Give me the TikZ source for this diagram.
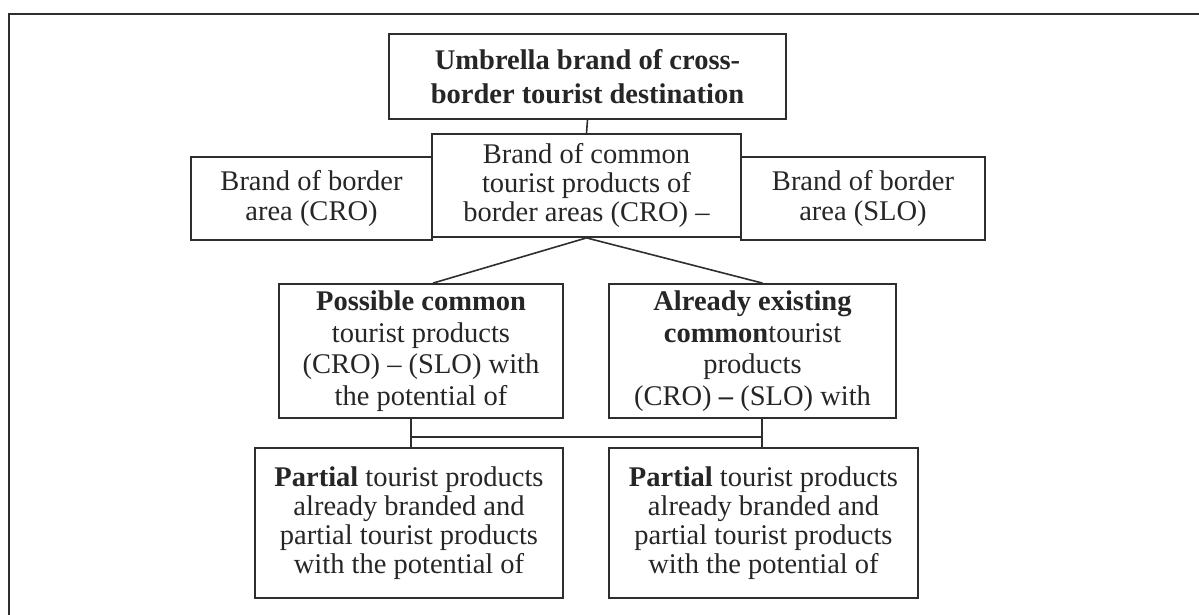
\documentclass[tikz,border=0pt]{standalone}
\usepackage{fontspec}
\setmainfont{Liberation Serif}
\usetikzlibrary{calc}
\definecolor{ink}{HTML}{2E2E2E}
\definecolor{txt}{HTML}{262626}
\begin{document}
\begin{tikzpicture}[x=1pt,y=-1pt,
  box/.style={draw=ink, line width=1.8pt, inner sep=0pt, align=center,
    text=txt, font=\fontsize{28.5}{29.2}\selectfont},
  link/.style={draw=ink, line width=1.6pt}]
\useasboundingbox (0,0) rectangle (1199,615);
% outer frame (open at right and bottom)
\draw[draw=ink, line width=1.8pt] (9,615) -- (9,14) -- (1199,14);

% top level
\node[box, minimum width=397pt, minimum height=85pt,
  font=\fontsize{28.5}{34}\selectfont\bfseries] (top) at (587.5,76.5)
  {Umbrella brand of cross-\\border tourist destination};

% second level
\node[box, minimum width=309pt, minimum height=103pt] (mid) at (586.5,185.5)
  {Brand of common\\tourist products of\\border areas (CRO) --};
\node[box, minimum width=241pt, minimum height=83pt] (cro) at (311.5,198.5)
  {Brand of border\\area (CRO)};
\node[box, minimum width=244pt, minimum height=83pt] (slo) at (863,198.5)
  {Brand of border\\area (SLO)};

% third level
\node[box, minimum width=284pt, minimum height=134pt,
  font=\fontsize{28.5}{31.5}\selectfont] (poss) at (421,351)
  {\textbf{Possible common}\\tourist products\\(CRO) -- (SLO) with\\the potential of};
\node[box, minimum width=287pt, minimum height=134pt,
  font=\fontsize{28.5}{31.5}\selectfont] (exist) at (752.5,351)
  {\textbf{Already existing}\\\textbf{common}tourist\\products\\(CRO) \textbf{--} (SLO) with};

% fourth level
\node[box, minimum width=308pt, minimum height=150pt] (pl) at (409,523)
  {\textbf{Partial} tourist products\\already branded and\\partial tourist products\\with the potential of};
\node[box, minimum width=309pt, minimum height=150pt] (pr) at (763.5,523)
  {\textbf{Partial} tourist products\\already branded and\\partial tourist products\\with the potential of};

% connectors
\draw[link] (top.south) -- (mid.north);
\draw[link] (mid.south) -- ($(poss.north)+(12,0)$);
\draw[link] (mid.south) -- ($(exist.north)+(10,0)$);

\coordinate (jl) at (411,437);
\coordinate (jr) at (762,437);
\draw[link] (poss.south -| jl) -- (pl.north -| jl);
\draw[link] (exist.south -| jr) -- (pr.north -| jr);
\draw[link] (jl) -- (jr);
\end{tikzpicture}
\end{document}
